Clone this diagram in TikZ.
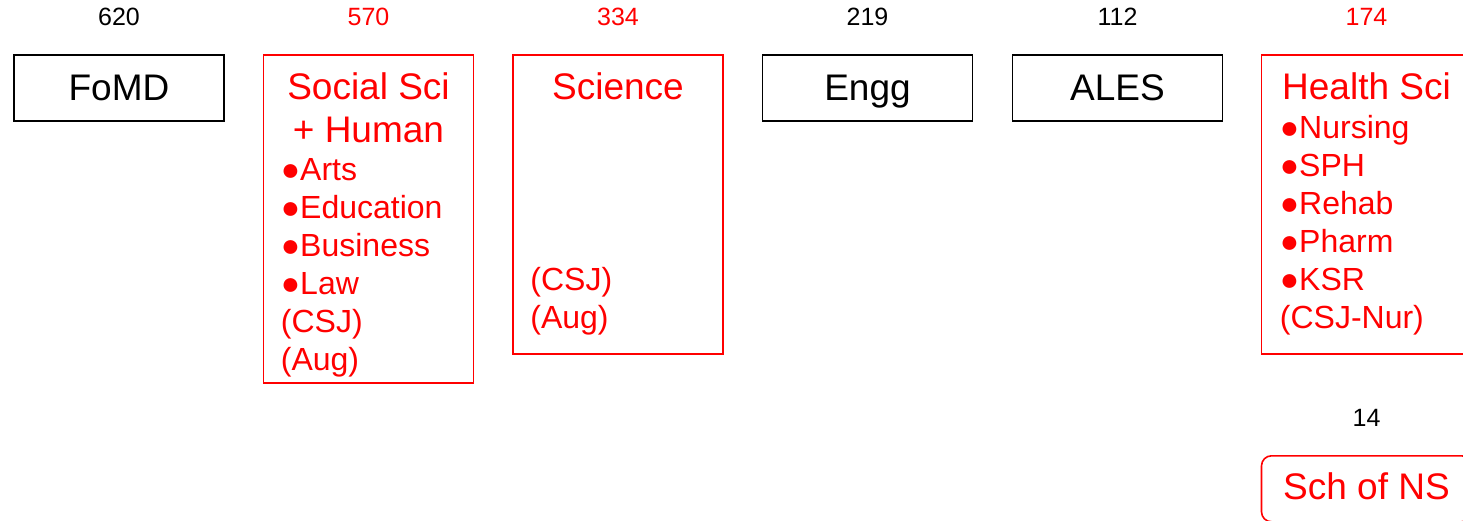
\documentclass[tikz,border=0pt]{standalone}
\usepackage{fontspec}
\setmainfont{Liberation Sans}
\usetikzlibrary{positioning}

\begin{document}
\begin{tikzpicture}[x=1pt,y=-1pt,
  unit/.style={draw,line width=1.6pt,minimum width=210pt,inner sep=0pt,anchor=north,
    text height=27pt,text depth=2.5pt,font=\fontsize{37}{43}\selectfont},
  count/.style={inner sep=0pt,font=\fontsize{25}{30}\selectfont},
  head/.style={inner sep=0pt,align=center,text=red,font=\fontsize{37}{43}\selectfont},
  items/.style={inner sep=0pt,align=left,text=red,font=\fontsize{32}{38}\selectfont}]
\useasboundingbox (0,0) rectangle (1463,521);
\clip (0,0) rectangle (1463,521);

% faculties
\node [unit,minimum height=66pt] (fomd) at (119,54) {FoMD};
\node [unit,red,minimum height=328pt] (soc) at (368.5,54) {};
\node [unit,red,minimum height=299pt] (sci) at (618,54) {};
\node [unit,minimum height=66pt] (engg) at (867.5,54) {Engg};
\node [unit,minimum height=66pt] (ales) at (1117.5,54) {ALES};
\node [unit,red,minimum height=299pt] (hlth) at (1366.5,54) {};
\node [unit,red,rounded corners=10pt,text=red,text depth=5pt,minimum height=66pt] (sns) at (1366.5,455) {Sch of NS};

% box contents
\node [head,below=18pt of soc.north] (socH) {Social Sci\\+ Human};
\node [items,below right=104pt and 18pt of soc.north west] (socL)
  {●Arts\\●Education\\●Business\\●Law\\(CSJ)\\(Aug)};
\node [head,below=18pt of sci.north] (sciH) {Science};
\node [items,below right=213pt and 18pt of sci.north west] (sciL) {(CSJ)\\(Aug)};
\node [head,below=18pt of hlth.north] (hlthH) {Health Sci};
\node [items,below right=61pt and 19pt of hlth.north west] (hlthL)
  {●Nursing\\●SPH\\●Rehab\\●Pharm\\●KSR\\(CSJ-Nur)};

% counts
\node [count,above=28pt of fomd.north] (nFomd) {620};
\node [count,red,above=28pt of soc.north] (nSoc) {570};
\node [count,red,above=28pt of sci.north] (nSci) {334};
\node [count,above=28pt of engg.north] (nEngg) {219};
\node [count,above=28pt of ales.north] (nAles) {112};
\node [count,red,above=28pt of hlth.north] (nHlth) {174};
\node [count,above=28pt of sns.north] (nSns) {14};
\end{tikzpicture}
\end{document}
